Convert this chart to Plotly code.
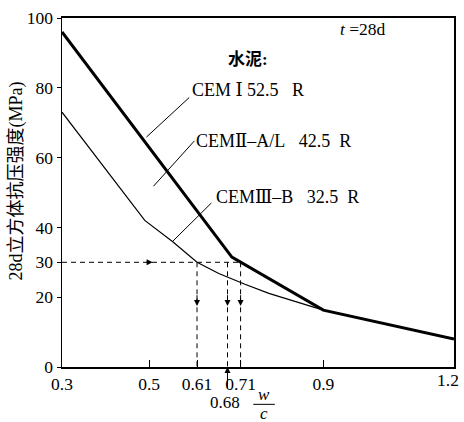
import plotly.graph_objects as go

# ---- data ----
wc_thick = [0.3, 0.69, 0.9, 1.2]
fc_thick = [96.0, 31.5, 16.3, 8.0]

wc_thin = [0.3, 0.49, 0.555, 0.61, 0.66, 0.72, 0.775, 0.9]
fc_thin = [73.0, 42.0, 35.8, 30.0, 26.8, 23.7, 21.1, 16.3]

target_strength = 30
wc_results = [0.61, 0.68, 0.71]

x_ticks = [0.3, 0.5, 0.61, 0.71, 0.9, 1.2]
y_ticks = [0, 20, 30, 40, 60, 80, 100]

NB = "\u00a0"
labels = ["CEM" + NB + "Ⅰ" + NB + "52.5" + NB * 3 + "R",
          "CEMⅡ–A/L" + NB * 3 + "42.5" + NB * 2 + "R",
          "CEMⅢ–B" + NB * 3 + "32.5" + NB * 2 + "R"]
label_pos = [(0.599, 79.3), (0.608, 64.8), (0.654, 48.6)]
leaders = [((0.494, 65.9), (0.592, 77.2)),
           ((0.510, 51.8), (0.604, 64.8)),
           ((0.554, 36.0), (0.643, 47.0))]

FONT = "'Liberation Serif', 'DejaVu Serif', 'Noto Sans CJK SC', serif"
TXT = dict(size=17.5, family=FONT, color="black")
LBL = dict(size=18, family=FONT, color="black")

fig = go.Figure()

fig.add_trace(go.Scatter(x=wc_thick, y=fc_thick, mode="lines",
                         line=dict(color="black", width=3), showlegend=False))
fig.add_trace(go.Scatter(x=wc_thin, y=fc_thin, mode="lines",
                         line=dict(color="black", width=1.2), showlegend=False))

# leader lines
for (a, b) in leaders:
    fig.add_trace(go.Scatter(x=[a[0], b[0]], y=[a[1], b[1]], mode="lines",
                             line=dict(color="black", width=1), showlegend=False))

# dashed construction lines
fig.add_trace(go.Scatter(x=[x_ticks[0], max(wc_results)], y=[target_strength, target_strength],
                         mode="lines", line=dict(color="black", width=1, dash="5px,4px"),
                         showlegend=False))
for w in wc_results:
    fig.add_trace(go.Scatter(x=[w, w], y=[target_strength, 0], mode="lines",
                             line=dict(color="black", width=1, dash="5px,4px"),
                             showlegend=False))

# arrowheads
fig.add_annotation(x=0.508, y=target_strength, ax=0.49, ay=target_strength,
                   xref="x", yref="y", axref="x", ayref="y", text="",
                   showarrow=True, arrowhead=2, arrowsize=1.2, arrowwidth=1, arrowcolor="black")
for w in wc_results:
    fig.add_annotation(x=w, y=17.5, ax=w, ay=21, xref="x", yref="y", axref="x", ayref="y",
                       text="", showarrow=True, arrowhead=2, arrowsize=1.2, arrowwidth=1,
                       arrowcolor="black")
fig.add_annotation(x=0.68, y=0, ax=0.68, ay=-6.5, xref="x", yref="y", axref="x", ayref="y",
                   text="", showarrow=True, arrowhead=2, arrowsize=1.2, arrowwidth=1,
                   arrowcolor="black")
fig.add_annotation(x=0.68, y=-0.103, xref="x", yref="paper", text="0.68", showarrow=False,
                   font=dict(size=17, family=FONT, color="black"), xanchor="center",
                   yanchor="middle", xshift=-3)
# last x tick label, kept inside the page
fig.add_annotation(x=1.2, y=-0.037, xref="x", yref="paper", text=str(x_ticks[-1]), showarrow=False,
                   font=TXT, xanchor="right", yanchor="middle", xshift=7)

# labels
for t, (x, y) in zip(labels, label_pos):
    fig.add_annotation(x=x, y=y, xref="x", yref="y", text=t, showarrow=False,
                       xanchor="left", yanchor="middle", font=LBL, xshift=-2)
fig.add_annotation(x=0.727, y=88.0, xref="x", yref="y", text="<b>水泥:</b>", showarrow=False,
                   xanchor="center", yanchor="middle", font=dict(size=17, family=FONT, color="black"))
fig.add_annotation(x=0.99, y=96.8, xref="x", yref="y", text="<i>t</i>" + NB + "=28d", showarrow=False,
                   xanchor="center", yanchor="middle", font=TXT)

# axis titles
fig.add_annotation(x=-0.117, y=0.532, xref="paper", yref="paper", text="28d立方体抗压强度(MPa)",
                   textangle=-90, showarrow=False, xanchor="center", yanchor="middle",
                   font=dict(size=18, family=FONT, color="black"))
fig.add_annotation(x=0.515, y=-0.080, xref="paper", yref="paper", text="<i>w</i>", showarrow=False,
                   xanchor="center", yanchor="middle", font=dict(size=17, family=FONT, color="black"))
fig.add_annotation(x=0.515, y=-0.133, xref="paper", yref="paper", text="<i>c</i>", showarrow=False,
                   xanchor="center", yanchor="middle", font=dict(size=17, family=FONT, color="black"))
fig.add_shape(type="line", xref="paper", yref="paper", x0=0.488, x1=0.543, y0=-0.107, y1=-0.107,
              line=dict(color="black", width=1))

fig.update_layout(
    width=464, height=422,
    margin=dict(l=62, r=8, t=12, b=55),
    plot_bgcolor="white", paper_bgcolor="white",
    font=dict(family=FONT, size=17.5, color="black"),
    showlegend=False,
)
fig.update_xaxes(range=[0.3, 1.2], tickvals=x_ticks,
                 ticktext=[str(v) for v in x_ticks[:-1]] + [""],
                 ticks="inside", ticklen=7, tickcolor="black", showgrid=False, zeroline=False,
                 showline=True, linecolor="black", linewidth=1.8, mirror=True,
                 tickfont=TXT)
fig.update_yaxes(range=[0, 100], tickvals=y_ticks, ticks="outside", ticklen=4, tickcolor="black",
                 showgrid=False, zeroline=False, showline=True, linecolor="black", linewidth=1.5,
                 mirror=True, tickfont=TXT)

fig.write_html(
    "out.html",
    config={"displayModeBar": False, "staticPlot": True},
    post_script="document.body.style.margin='0';document.body.style.padding='0';"
                "document.body.style.overflow='hidden';",
)
